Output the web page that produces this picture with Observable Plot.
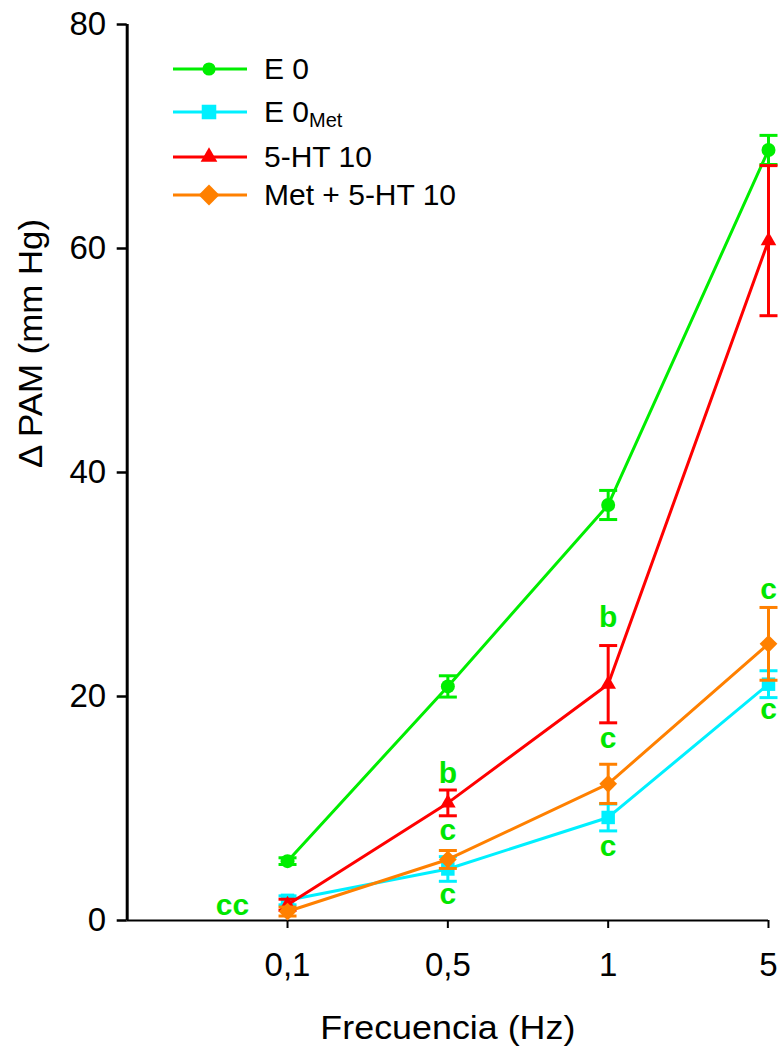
<!DOCTYPE html>
<html>
<head>
<meta charset="utf-8">
<script src="https://cdn.jsdelivr.net/npm/d3@7"></script>
<script src="https://cdn.jsdelivr.net/npm/@observablehq/plot@0.6"></script>
<style>
  html, body { margin: 0; padding: 0; background: #fff; }
  #chart { position: relative; width: 780px; height: 1047px; font-family: "Liberation Sans", Arial, sans-serif; }
  #legend { position: absolute; left: 160px; top: 40px; }
</style>
</head>
<body>
<div id="chart"></div>
<script>
// Stimulation frequencies (Hz), one category per tick
const frequencies = ["0,1", "0,5", "1", "5"];

// Mean change in mean arterial pressure (mm Hg) and its error, per group
const e0Mean = [5.3, 20.9, 37.1, 68.8];
const e0Err = [0.3, 0.95, 1.3, 1.3];
const e0MetMean = [1.8, 4.6, 9.2, 21.1];
const e0MetErr = [0.4, 1.1, 1.2, 1.2];
const ht10Mean = [1.4, 10.5, 21.1, 60.7];
const ht10Err = [0.5, 1.15, 3.45, 6.7];
const metHt10Mean = [0.8, 5.45, 12.2, 24.7];
const metHt10Err = [0.4, 0.8, 1.75, 3.25];

// Legend labels (main text + subscript)
const legendMain = ["E 0", "E 0", "5-HT 10", "Met + 5-HT 10"];
const legendSub = ["", "Met", "", ""];

const yTicks = [0, 20, 40, 60, 80];

// Significance letters: letter, frequency, baseline value (mm Hg)
const sigLetters = ["cc", "b", "c", "c", "b", "c", "c", "c", "c"];
const sigFreq = ["0,1", "0,5", "0,5", "0,5", "1", "1", "1", "5", "5"];
const sigValue = [0.45, 12.3, 7.2, 1.5, 26.2, 15.4, 5.8, 28.75, 18.0];

// ---- styling ----
const colors = ["#00ee00", "#00f0ff", "#ff0000", "#ff8000"];
const symbols = ["circle", "square", "triangle", "diamond2"];
const radii = [7, 7.6, 5.8, 8];
const letterColor = "#00e600";

const means = [e0Mean, e0MetMean, ht10Mean, metHt10Mean];
const errs = [e0Err, e0MetErr, ht10Err, metHt10Err];
const pos = f => frequencies.indexOf(f) + 1;

const series = means.map((m, k) =>
  frequencies.map((f, i) => ({k, x: pos(f), mean: m[i], lo: m[i] - errs[k][i], hi: m[i] + errs[k][i]}))
);

const sig = sigLetters.map((t, i) => ({t, x: pos(sigFreq[i]), y: sigValue[i]}));

// horizontal cap for the error bars
const capSymbol = {draw(ctx) { ctx.moveTo(-9, 0); ctx.lineTo(9, 0); }};

const seriesMarks = series.flatMap((rows, k) => [
  Plot.line(rows, {x: "x", y: "mean", stroke: colors[k], strokeWidth: 3}),
  Plot.ruleX(rows, {x: "x", y1: "lo", y2: "hi", stroke: colors[k], strokeWidth: 3}),
  Plot.dot(rows, {x: "x", y: "hi", symbol: capSymbol, stroke: colors[k], strokeWidth: 3, fill: "none"}),
  Plot.dot(rows, {x: "x", y: "lo", symbol: capSymbol, stroke: colors[k], strokeWidth: 3, fill: "none"}),
  Plot.dot(rows, {x: "x", y: "mean", symbol: symbols[k], r: radii[k], fill: colors[k], stroke: "none"})
]);

const chart = Plot.plot({
  width: 780,
  height: 1047,
  marginLeft: 126.7,
  marginRight: 12,
  marginTop: 24,
  marginBottom: 127,
  style: {fontFamily: "'Liberation Sans', Arial, sans-serif", color: "#000", background: "#fff", overflow: "visible"},
  x: {domain: [0, 4]},
  y: {domain: [0, 80]},
  marks: [
    Plot.axisX([1, 2, 3, 4], {tickFormat: d => frequencies[d - 1], tickSize: 8, tickPadding: 24, fontSize: 33, strokeWidth: 2, label: null}),
    Plot.axisY(yTicks, {tickSize: 10, tickPadding: 11, fontSize: 33, strokeWidth: 2.5, label: null}),
    Plot.ruleX([0], {y1: 0, y2: 80, strokeWidth: 3}),
    Plot.ruleY([0], {x1: 0, x2: 4, strokeWidth: 2}),
    ...seriesMarks,
    Plot.text(sig.filter(d => d.x === 1), {x: "x", y: "y", text: "t", dx: -55, lineAnchor: "bottom", fontSize: 30, fontWeight: "bold", fill: letterColor}),
    Plot.text(sig.filter(d => d.x !== 1), {x: "x", y: "y", text: "t", lineAnchor: "bottom", fontSize: 30, fontWeight: "bold", fill: letterColor}),
    Plot.text(["Frecuencia (Hz)"], {frameAnchor: "bottom", dy: 118, lineAnchor: "bottom", fontSize: 33, fill: "#000", className: "xlabel"}),
    Plot.text(["\u0394 PAM (mm Hg)"], {frameAnchor: "left", dx: -95.7, dy: -4.5, rotate: -90, fontSize: 33, fill: "#000", className: "ylabel"})
  ]
});

d3.select(chart).selectAll(".xlabel text").attr("textLength", 255).attr("lengthAdjust", "spacingAndGlyphs");
d3.select(chart).selectAll(".ylabel text").attr("textLength", 249).attr("lengthAdjust", "spacingAndGlyphs");

const host = document.getElementById("chart");
host.appendChild(chart);

// Legend: line + marker + label per group
const legend = d3.select(host).append("svg")
  .attr("id", "legend")
  .attr("width", 320)
  .attr("height", 180);

const rowY = [29, 72, 117, 155];
const legendRadii = [6.6, 8.2, 6.2, 9.4];
legendMain.forEach((label, k) => {
  const g = legend.append("g").attr("transform", `translate(0,${rowY[k]})`);
  g.append("line").attr("x1", 13).attr("x2", 87).attr("stroke", colors[k]).attr("stroke-width", 3);
  const sym = {circle: d3.symbolCircle, square: d3.symbolSquare, triangle: d3.symbolTriangle, diamond2: d3.symbolDiamond2}[symbols[k]];
  g.append("path")
    .attr("transform", "translate(49,0)")
    .attr("d", d3.symbol(sym, Math.PI * legendRadii[k] ** 2)())
    .attr("fill", colors[k]);
  const t = g.append("text")
    .attr("x", 104).attr("y", 10)
    .attr("font-family", "'Liberation Sans', Arial, sans-serif")
    .attr("font-size", 30)
    .attr("fill", "#000")
    .text(label);
  if (legendSub[k]) {
    t.append("tspan").attr("dy", 5).attr("font-size", 20).text(legendSub[k]);
  }
});
</script>
</body>
</html>
